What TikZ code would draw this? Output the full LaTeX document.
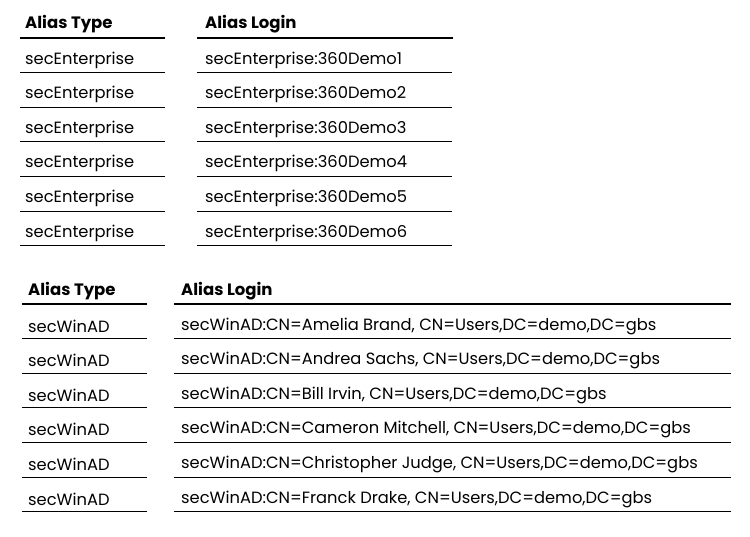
\documentclass[tikz,border=0pt]{standalone}
\usepackage{fontspec}
\setmainfont{Poppins}
\begin{document}
\begin{tikzpicture}[x=1pt,y=-1pt,
  hdr/.style={anchor=west,inner sep=0pt,font=\fontsize{16.5}{18}\selectfont\bfseries},
  cell/.style={anchor=west,inner sep=0pt,font=\fontsize{16.3}{18}\selectfont},
  hline/.style={line width=1.4pt},
  rline/.style={line width=0.7pt}]
\useasboundingbox (0,0) rectangle (750,536);
% table 1
\node[hdr] (t1h1) at (25,24) {Alias Type};
\node[hdr] (t1h2) at (205,24) {Alias Login};
\draw[hline] (20,38) -- (165,38);
\draw[hline] (197,38) -- (453,38);
\foreach \i in {1,...,6}{
  \pgfmathsetmacro{\yy}{60+(\i-1)*34.6}
  \node[cell] (t1a\i) at (25,\yy) {secEnterprise};
  \node[cell] (t1b\i) at (205,\yy) {secEnterprise:360Demo\i};
  \draw[rline] (20,\yy+12.5) -- (165,\yy+12.5);
  \draw[rline] (197,\yy+12.5) -- (452,\yy+12.5);
}
% table 2
\node[hdr] (t2h1) at (28,291) {Alias Type};
\node[hdr] (t2h2) at (181,291) {Alias Login};
\draw[hline] (22,304) -- (147,304);
\draw[hline] (174,304) -- (731,304);
\foreach \i/\n in {1/Amelia Brand,2/Andrea Sachs,3/Bill Irvin,4/Cameron Mitchell,5/Christopher Judge,6/Franck Drake}{
  \pgfmathsetmacro{\yy}{326+(\i-1)*34.6}
  \node[cell] (t2a\i) at (28,\yy) {secWinAD};
  \node[cell] (t2b\i) at (181,\yy) {secWinAD:CN=\n, CN=Users,DC=demo,DC=gbs};
  \draw[rline] (22,\yy+12.5) -- (147,\yy+12.5);
  \draw[rline] (174,\yy+12.5) -- (731,\yy+12.5);
}
\end{tikzpicture}
\end{document}
